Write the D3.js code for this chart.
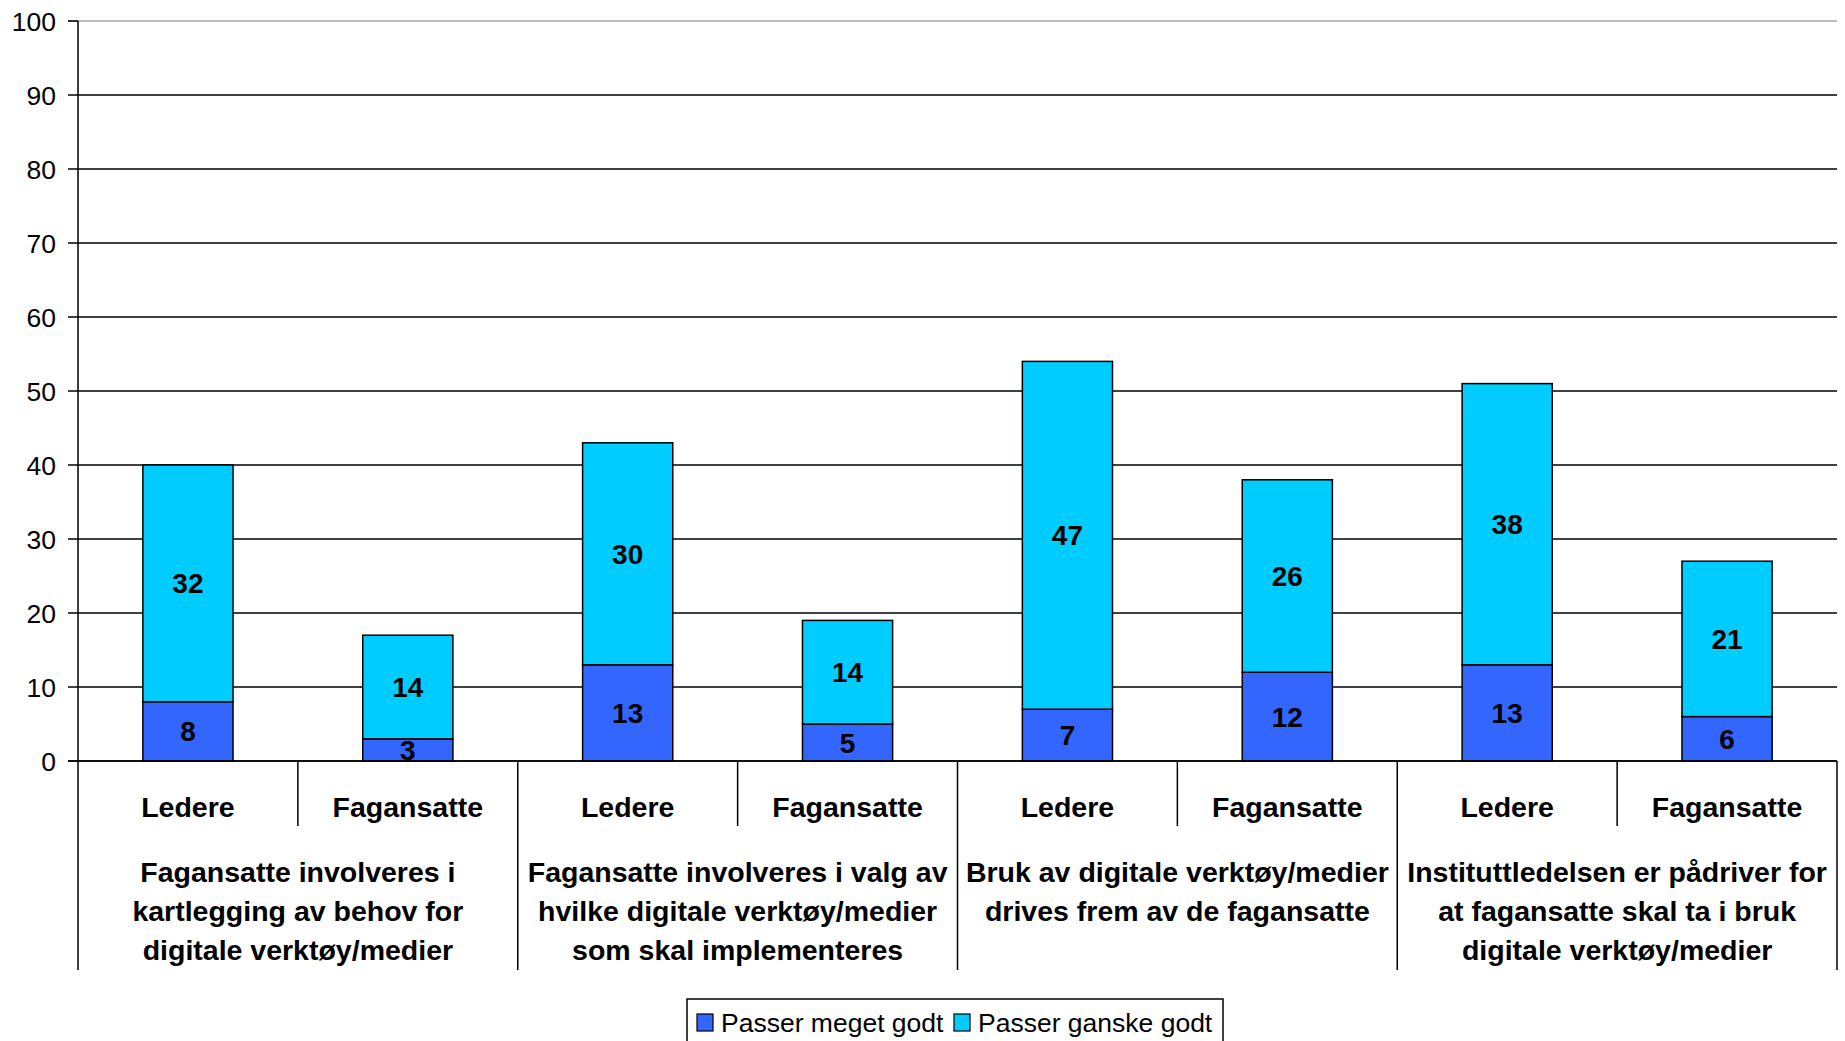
<!DOCTYPE html>
<html>
<head>
<meta charset="utf-8">
<script src="https://cdn.jsdelivr.net/npm/d3@7"></script>
<style>
  html, body { margin: 0; padding: 0; background: #fff; }
  svg { display: block; font-family: "Liberation Sans", Arial, sans-serif; }
</style>
</head>
<body>
<svg id="root" width="1845" height="1041"></svg>
<script>
(function () {
  // data
  let groupLabels = [
    ["Fagansatte involveres i", "kartlegging av behov for", "digitale verktøy/medier"],
    ["Fagansatte involveres i valg av", "hvilke digitale verktøy/medier", "som skal implementeres"],
    ["Bruk av digitale verktøy/medier", "drives frem av de fagansatte"],
    ["Instituttledelsen er pådriver for", "at fagansatte skal ta i bruk", "digitale verktøy/medier"]
  ];
  let roles = ["Ledere", "Fagansatte"];
  let seriesNames = ["Passer meget godt", "Passer ganske godt"];
  let meget = [8, 3, 13, 5, 7, 12, 13, 6];
  let ganske = [32, 14, 30, 14, 47, 26, 38, 21];
  let yTickValues = [0, 10, 20, 30, 40, 50, 60, 70, 80, 90, 100];
  let colors = ["#3366ff", "#00ccff"];

  let svg = d3.select("#root");

  let left = 78, right = 1837, top = 21, bottom = 761;

  let rows = meget.map((m, i) => ({
    key: i,
    role: roles[i % 2],
    group: Math.floor(i / 2),
    meget: m,
    ganske: ganske[i]
  }));

  let stacked = d3.stack().keys(["meget", "ganske"])(rows);

  let x = d3.scaleBand()
    .domain(rows.map(d => d.key))
    .range([left, right])
    .padding(0);

  let xGroup = d3.scaleBand()
    .domain(groupLabels.map((d, i) => i))
    .range([left, right])
    .padding(0);

  let y = d3.scaleLinear()
    .domain([0, 100])
    .range([bottom, top]);

  let barW = x.bandwidth() * 0.41;

  // gridlines + y ticks
  let grid = svg.append("g");
  grid.selectAll("line")
    .data(yTickValues)
    .enter().append("line")
    .attr("x1", left - 10)
    .attr("x2", right)
    .attr("y1", d => y(d))
    .attr("y2", d => y(d))
    .attr("stroke", d => d === 100 ? "#bdbdbd" : "#000")
    .attr("stroke-width", d => d === 100 ? 2 : 1.5);

  // tick mark at 100 stays black on the left
  grid.append("line")
    .attr("x1", left - 10).attr("x2", left)
    .attr("y1", y(100)).attr("y2", y(100))
    .attr("stroke", "#000").attr("stroke-width", 1.5);

  svg.append("g").selectAll("text")
    .data(yTickValues)
    .enter().append("text")
    .attr("x", left - 22)
    .attr("y", d => y(d))
    .attr("dy", "0.36em")
    .attr("text-anchor", "end")
    .style("font-size", "26.5px")
    .text(d => d);

  // bars
  let layers = svg.append("g").selectAll("g")
    .data(stacked)
    .enter().append("g")
    .attr("fill", (d, i) => colors[i]);

  layers.selectAll("rect")
    .data(d => d)
    .enter().append("rect")
    .attr("x", d => x(d.data.key) + (x.bandwidth() - barW) / 2)
    .attr("y", d => y(d[1]))
    .attr("width", barW)
    .attr("height", d => y(d[0]) - y(d[1]))
    .attr("stroke", "#000")
    .attr("stroke-width", 1.5);

  layers.selectAll("text")
    .data(d => d)
    .enter().append("text")
    .attr("x", d => x(d.data.key) + x.bandwidth() / 2)
    .attr("y", d => (y(d[0]) + y(d[1])) / 2)
    .attr("dy", "0.36em")
    .attr("text-anchor", "middle")
    .attr("fill", "#000")
    .style("font-size", "28px")
    .style("font-weight", "bold")
    .text(d => d[1] - d[0]);

  // axes lines
  let axis = svg.append("g").attr("stroke", "#000").attr("stroke-width", 1.5);
  axis.append("line")
    .attr("x1", left).attr("x2", left)
    .attr("y1", y(100)).attr("y2", 970);
  axis.append("line")
    .attr("x1", left - 10).attr("x2", right)
    .attr("y1", y(0)).attr("y2", y(0));

  // short separators inside groups, long ones between groups
  axis.selectAll(".sep")
    .data(groupLabels.map((d, i) => i))
    .enter().append("line")
    .attr("class", "sep")
    .attr("x1", d => xGroup(d) + xGroup.bandwidth() / 2)
    .attr("x2", d => xGroup(d) + xGroup.bandwidth() / 2)
    .attr("y1", y(0)).attr("y2", 826);
  axis.selectAll(".gsep")
    .data(groupLabels.map((d, i) => i))
    .enter().append("line")
    .attr("class", "gsep")
    .attr("x1", d => xGroup(d) + xGroup.bandwidth())
    .attr("x2", d => xGroup(d) + xGroup.bandwidth())
    .attr("y1", y(0)).attr("y2", 970);

  // role labels
  svg.append("g").selectAll("text")
    .data(rows)
    .enter().append("text")
    .attr("x", d => x(d.key) + x.bandwidth() / 2)
    .attr("y", 807)
    .attr("dy", "0.36em")
    .attr("text-anchor", "middle")
    .style("font-size", "28.5px")
    .style("font-weight", "bold")
    .text(d => d.role);

  // group labels
  svg.append("g").selectAll("text")
    .data(groupLabels)
    .enter().append("text")
    .attr("text-anchor", "middle")
    .style("font-size", "28.5px")
    .style("font-weight", "bold")
    .each(function (lines, i) {
      let t = d3.select(this);
      lines.forEach((line, j) => {
        t.append("tspan")
          .attr("x", xGroup(i) + xGroup.bandwidth() / 2)
          .attr("y", 872 + j * 39)
          .attr("dy", "0.36em")
          .text(line);
      });
    });

  // legend
  let legend = svg.append("g");
  legend.append("rect")
    .attr("x", 687).attr("y", 999)
    .attr("width", 536).attr("height", 50)
    .attr("fill", "#fff")
    .attr("stroke", "#000")
    .attr("stroke-width", 1.5);

  let legendX = [697, 954];
  seriesNames.forEach((name, i) => {
    legend.append("rect")
      .attr("x", legendX[i]).attr("y", 1014)
      .attr("width", 16).attr("height", 17)
      .attr("fill", colors[i])
      .attr("stroke", "#000")
      .attr("stroke-width", 1.2);
    legend.append("text")
      .attr("x", legendX[i] + 24)
      .attr("y", 1022)
      .attr("dy", "0.36em")
      .style("font-size", "26.5px")
      .text(name);
  });
})();
</script>
</body>
</html>
